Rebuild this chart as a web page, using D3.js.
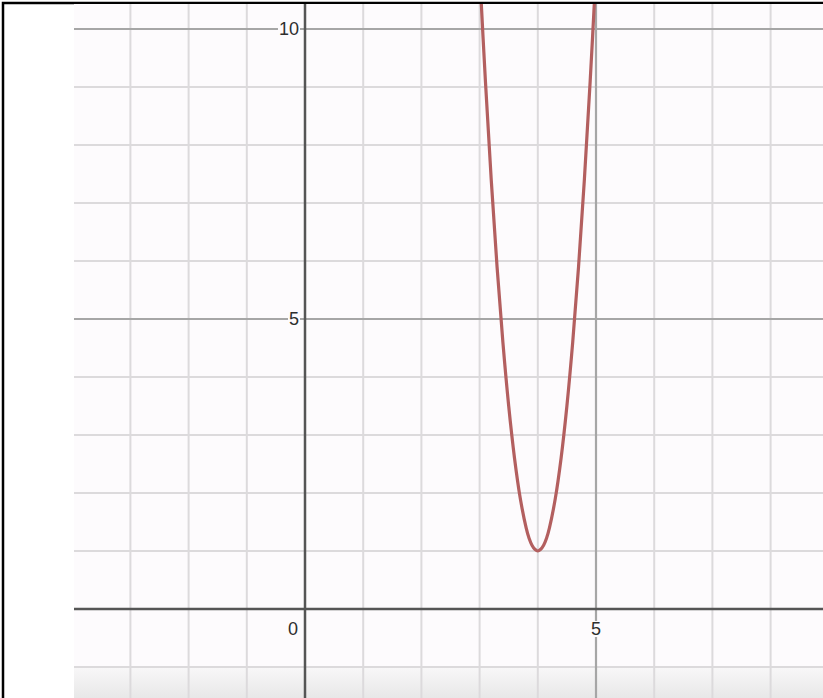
<!DOCTYPE html>
<html>
<head>
<meta charset="utf-8">
<script src="https://cdn.jsdelivr.net/npm/d3@7"></script>
<style>
  body { margin: 0; background: #fff; }
  svg { display: block; }
  .lbl { font-family: "Liberation Sans", Arial, sans-serif; font-size: 18px; fill: #2e2e2e; }
</style>
</head>
<body>
<script>
// curve points (x, y)
var curveX = [2.95, 3.0, 3.1, 3.2, 3.3, 3.4, 3.5, 3.6, 3.7, 3.8, 3.85, 3.9, 3.95, 4.0, 4.05, 4.1, 4.15, 4.2, 4.3, 4.4, 4.5, 4.6, 4.7, 4.8, 4.9, 5.0, 5.05],
    curveY = [12.0, 11.0, 9.1, 7.4, 5.9, 4.6, 3.5, 2.6, 1.9, 1.4, 1.22, 1.1, 1.03, 1.0, 1.03, 1.1, 1.22, 1.4, 1.9, 2.6, 3.5, 4.6, 5.9, 7.4, 9.1, 11.0, 12.0];

var xTicks = [0, 5],
    yTicks = [0, 5, 10],
    xGrid = d3.range(-4, 10),
    yGrid = d3.range(-1, 12);

var W = 823, H = 698,
    plot = {left: 74, top: 4, right: 823, bottom: 698};  // plot box inside the frame

var x = d3.scaleLinear().domain([0, 5]).range([305, 596]),
    y = d3.scaleLinear().domain([0, 10]).range([609, 29]);

var svg = d3.select("body").append("svg")
    .attr("width", W)
    .attr("height", H);

var defs = svg.append("defs");
defs.append("clipPath").attr("id", "clip")
  .append("rect")
    .attr("x", plot.left).attr("y", plot.top)
    .attr("width", plot.right - plot.left).attr("height", plot.bottom - plot.top);

var grad = defs.append("linearGradient").attr("id", "fade")
    .attr("x1", 0).attr("y1", 0).attr("x2", 0).attr("y2", 1);
grad.append("stop").attr("offset", "0%").attr("stop-color", "#f8f7f8");
grad.append("stop").attr("offset", "100%").attr("stop-color", "#e8e8e8");

// frame
svg.append("rect")
    .attr("x", 3).attr("y", 3).attr("width", W).attr("height", H)
    .attr("fill", "#fff").attr("stroke", "#000").attr("stroke-width", 2.5);

var g = svg.append("g").attr("clip-path", "url(#clip)");

g.append("rect")
    .attr("x", plot.left).attr("y", plot.top)
    .attr("width", plot.right - plot.left).attr("height", plot.bottom - plot.top)
    .attr("fill", "#fdfbfd");

g.append("rect")
    .attr("x", plot.left).attr("y", y(-1))
    .attr("width", plot.right - plot.left).attr("height", plot.bottom - y(-1))
    .attr("fill", "url(#fade)");

// minor grid
g.selectAll(".vgrid").data(xGrid.filter(function(d) { return d % 5 !== 0; }))
  .enter().append("line")
    .attr("x1", function(d) { return x(d); }).attr("x2", function(d) { return x(d); })
    .attr("y1", plot.top).attr("y2", plot.bottom)
    .attr("stroke", "#dcdadc").attr("stroke-width", 2);

g.selectAll(".hgrid").data(yGrid.filter(function(d) { return d % 5 !== 0; }))
  .enter().append("line")
    .attr("y1", function(d) { return y(d); }).attr("y2", function(d) { return y(d); })
    .attr("x1", plot.left).attr("x2", plot.right)
    .attr("stroke", "#dcdadc").attr("stroke-width", 2);

// major grid
g.selectAll(".hmajor").data(yTicks.filter(function(d) { return d !== 0; }))
  .enter().append("line")
    .attr("y1", function(d) { return y(d); }).attr("y2", function(d) { return y(d); })
    .attr("x1", plot.left).attr("x2", plot.right)
    .attr("stroke", "#a6a6a6").attr("stroke-width", 2.2);

g.selectAll(".vmajor").data(xTicks.filter(function(d) { return d !== 0; }))
  .enter().append("line")
    .attr("x1", function(d) { return x(d); }).attr("x2", function(d) { return x(d); })
    .attr("y1", plot.top).attr("y2", plot.bottom)
    .attr("stroke", "#a6a6a6").attr("stroke-width", 2.2);

// axes
g.append("line")
    .attr("x1", plot.left).attr("x2", plot.right)
    .attr("y1", y(0)).attr("y2", y(0))
    .attr("stroke", "#555").attr("stroke-width", 2.5);
g.append("line")
    .attr("x1", x(0)).attr("x2", x(0))
    .attr("y1", plot.top).attr("y2", plot.bottom)
    .attr("stroke", "#555").attr("stroke-width", 2.5);

// tick labels with a halo the colour of the plot
function label(txt, px, py, anchor) {
  var t = g.append("text").attr("class", "lbl")
      .attr("x", px).attr("y", py)
      .attr("text-anchor", anchor)
      .attr("dominant-baseline", "central")
      .text(txt);
  var b = t.node().getBBox();
  g.insert("rect", function() { return t.node(); })
      .attr("x", b.x - 1).attr("y", b.y + 2)
      .attr("width", b.width + 2).attr("height", b.height - 4)
      .attr("fill", "#fdfbfd");
}

yTicks.filter(function(d) { return d !== 0; }).forEach(function(d) {
  label(String(d), x(0) - 6, y(d), "end");
});
label("0", x(0) - 7, y(0) + 20, "end");
xTicks.filter(function(d) { return d !== 0; }).forEach(function(d) {
  label(String(d), x(d), y(0) + 20, "middle");
});

// curve
var pts = curveX.map(function(d, i) { return [d, curveY[i]]; });
var line = d3.line()
    .x(function(d) { return x(d[0]); })
    .y(function(d) { return y(d[1]); })
    .curve(d3.curveCatmullRom);

g.append("path")
    .datum(pts)
    .attr("d", line)
    .attr("fill", "none")
    .attr("stroke", "#b35f5f")
    .attr("stroke-width", 3.2);
</script>
</body>
</html>
